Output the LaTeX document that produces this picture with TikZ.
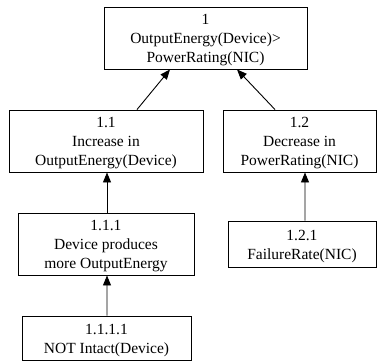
\documentclass[tikz,border=0pt]{standalone}
\usepackage{fontspec}
\setmainfont{Liberation Serif}
\usetikzlibrary{arrows.meta}
\newcommand\boxtext[1]{\raisebox{-2bp}[\height][\depth]{\begin{tabular}{@{}c@{}}#1\end{tabular}}}
\begin{document}
\begin{tikzpicture}[x=1bp,y=1bp,
  box/.style={draw, line width=0.9bp, inner sep=0pt,
    font=\fontsize{15.5bp}{19bp}\selectfont},
  arr/.style={line width=0.9bp, -{Triangle[length=10bp,width=8bp]}}]
\useasboundingbox (0,0) rectangle (377,361);
\node[box, minimum width=203bp, minimum height=62bp] (n1) at (205.5,323) {\boxtext{1\\OutputEnergy(Device)>\\PowerRating(NIC)}};
\node[box, minimum width=194bp, minimum height=62bp] (n11) at (106,220) {\boxtext{1.1\\Increase in\\OutputEnergy(Device)}};
\node[box, minimum width=153bp, minimum height=62bp] (n12) at (299.5,220) {\boxtext{1.2\\Decrease in\\PowerRating(NIC)}};
\node[box, minimum width=176bp, minimum height=62bp] (n111) at (106,117) {\boxtext{1.1.1\\Device produces\\more OutputEnergy}};
\node[box, minimum width=148bp, minimum height=46bp] (n121) at (302,117) {\boxtext{1.2.1\\FailureRate(NIC)}};
\node[box, minimum width=169bp, minimum height=44bp] (n1111) at (106.5,23) {\boxtext{1.1.1.1\\NOT Intact(Device)}};
\draw[arr] ([xshift=31bp]n11.north) -- ([xshift=-35.5bp]n1.south);
\draw[arr] ([xshift=-24.5bp]n12.north) -- ([xshift=31.5bp]n1.south);
\draw[arr] ([xshift=1bp]n111.north) -- ([xshift=1bp]n11.south);
\draw[arr] ([xshift=3bp]n121.north) -- ([xshift=5.5bp]n12.south);
\draw[arr] ([xshift=0.5bp]n1111.north) -- ([xshift=1bp]n111.south);
\end{tikzpicture}
\end{document}
